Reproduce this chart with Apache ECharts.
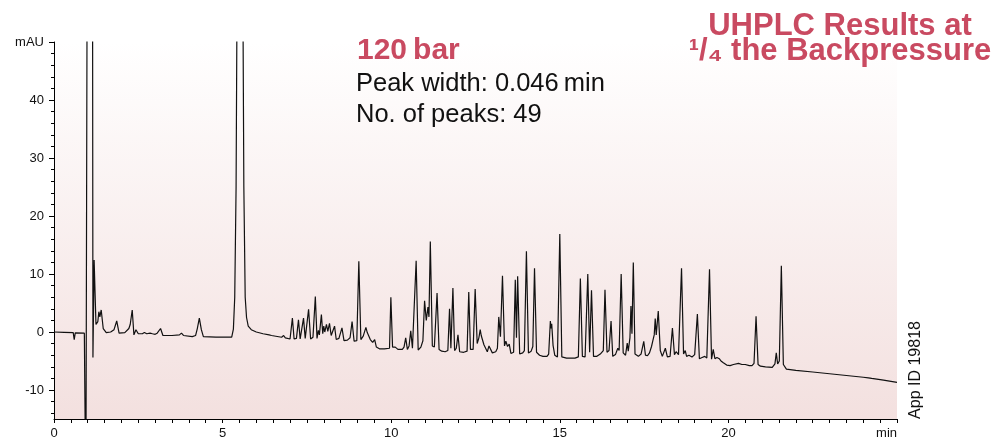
<!DOCTYPE html>
<html>
<head>
<meta charset="utf-8">
<script src="https://cdn.jsdelivr.net/npm/echarts@6/dist/echarts.min.js"></script>
<style>
html,body{margin:0;padding:0;background:#ffffff;}
#chart{width:999px;height:437px;}
</style>
</head>
<body>
<div id="chart"></div>
<script>
// ---- Data: [retention time (min), signal (mAU)] ----
const earlyTrace = [
  [0,0],[0.3,-0.05],[0.57,-0.1],[0.6,-1.3],[0.63,-0.15],[0.9,-0.2],[0.93,-0.2],
  [0.945,-30],[0.975,-30],[0.99,80],[1.14,80],[1.155,-4.4],[1.19,12.4],[1.245,1.3],
  [1.3,1.8],[1.33,3.5],[1.36,2.6],[1.4,3.8],[1.46,0.6],[1.55,-0.1],[1.68,0],
  [1.78,0.4],[1.81,0.3],[1.86,1.9],[1.93,-0.2],[2.1,-0.1],[2.22,0.6],[2.26,1.3],
  [2.32,3.8],[2.37,-0.5],[2.43,0.4],[2.5,-0.3],[2.62,-0.3],[2.68,-0.1],[2.75,-0.3],
  [2.85,-0.2],[2.92,-0.3],[3.0,-0.4],[3.06,-0.2],[3.1,-0.3],[3.16,0.6],[3.23,-0.6],
  [3.5,-0.6],[3.72,-0.5],[3.78,-0.2],[3.84,-0.6],[4.1,-0.8],[4.2,-0.6],[4.25,0.6],
  [4.31,2.4],[4.37,0.4],[4.43,-0.8],[4.8,-0.9],[5.27,-0.9],[5.32,0.5],[5.36,6],
  [5.4,25],[5.43,60],[5.52,220],[5.6,60],[5.63,25],[5.67,6],[5.71,2.5],[5.76,1.0],
  [5.85,0.4],[6.0,0],[6.2,-0.3],[6.38,-0.5],[6.41,-0.3],[6.45,-0.6],[6.75,-0.9],
  [6.81,-0.6],[6.86,-1.0]
];
const midTrace = [
  [7.0,-1.2],[7.03,-1.2],[7.07,2.4],[7.12,-1.2],[7.19,-1.1],[7.25,2.1],[7.3,-1.2],
  [7.35,-1.0],[7.4,2.4],[7.45,-1.1],[7.5,-0.8],[7.55,3.9],[7.61,-1.2],[7.68,-0.9],
  [7.75,6.1],[7.8,-1.1],[7.84,0.3],[7.87,-0.5],[7.93,3.0],[7.97,-0.3],[8.0,1.0],
  [8.03,0.0],[8.08,1.3],[8.12,0.1],[8.17,1.5],[8.22,-0.6],[8.26,-0.9],[8.32,1.0],
  [8.37,-1.3],[8.45,-1.1],[8.54,0.7],[8.6,-1.5],[8.7,-1.4],[8.78,-1.0],[8.84,1.8],
  [8.9,-1.6],[8.98,-1.5],[9.04,12.2],[9.1,-1.3],[9.17,-0.7],[9.25,0.8],[9.29,-0.1],
  [9.33,0.2],[9.38,-1.3],[9.45,-1.8],[9.51,-1.3],[9.56,-2.6],[9.65,-2.9],[9.8,-2.9],
  [9.95,-2.8],[9.99,6.0],[10.04,-2.6],[10.08,-2.3],[10.12,-2.6],[10.2,-3.0],
  [10.33,-3.0],[10.38,-2.6],[10.43,-1.0],[10.48,-3.0],[10.53,-2.4],[10.58,0.2],
  [10.63,-2.8],[10.68,-2.6],[10.74,12.3],[10.8,-3.1],[10.88,-2.6],[10.94,-1.5],
  [10.99,5.4],[11.04,2.0],[11.09,4.3],[11.12,2.6],[11.16,15.6],[11.22,-2.4],
  [11.28,-2.6],[11.36,6.7],[11.42,-3.0],[11.5,-3.3],[11.6,-3.4],[11.68,-3.2],
  [11.73,4.0],[11.77,-2.8],[11.83,7.6],[11.88,-3.2],[11.93,-2.8],[11.98,-0.5],
  [12.03,-3.4],[12.15,-3.5],[12.25,-3.3],[12.3,6.9],[12.35,-3.0],[12.43,-3.0],
  [12.49,7.4],[12.55,-2.0],[12.6,-1.0],[12.64,0.4],[12.67,-0.6],[12.7,-1.2],
  [12.75,-2.2],[12.8,-2.8],[12.85,-3.4],[12.9,-2.4],[12.94,-2.2],[13.0,-3.6],
  [13.1,-3.4],[13.15,-2.8],[13.19,2.6],[13.24,-0.8],[13.3,9.7],[13.36,-2.4],
  [13.4,-1.6],[13.45,-2.5],[13.5,-2.1],[13.55,-3.7],[13.63,-3.5],[13.68,9.0],
  [13.715,-1.0],[13.75,9.6],[13.81,-3.8],[13.9,-3.6],[13.95,-3.2],[14.01,13.9],
  [14.07,-3.6],[14.15,-3.3],[14.2,-2.5],[14.25,11.0],[14.31,-3.5],[14.4,-4.0],
  [14.5,-4.2],[14.62,-4.2],[14.67,-3.8],[14.72,1.9],[14.74,0.6],[14.76,1.4],
  [14.8,-2.3],[14.85,-4.0],[14.93,-4.3],[15.0,16.9],[15.06,-4.3],[15.2,-4.5],
  [15.45,-4.5]
];
const lateTrace = [
  [15.55,-4.3],[15.61,9.2],[15.67,-4.2],[15.75,-4.3],[15.83,10.0],[15.885,-3.5],
  [15.94,7.2],[16.0,-4.2],[16.1,-4.2],[16.2,-3.8],[16.25,-3.6],[16.29,-3.2],
  [16.34,7.3],[16.4,-3.5],[16.46,-3.2],[16.52,1.9],[16.57,-4.2],[16.65,-3.9],
  [16.72,-2.8],[16.76,-3.2],[16.82,10.0],[16.88,-3.6],[16.95,-4.0],[17.0,-1.9],
  [17.03,-3.3],[17.08,-1.0],[17.11,4.5],[17.14,-0.3],[17.18,12.0],[17.23,-3.8],
  [17.28,-3.7],[17.33,-4.2],[17.41,-3.8],[17.45,-4.1],[17.49,-1.6],[17.54,-4.0],
  [17.6,-4.1],[17.66,-3.6],[17.72,-2.5],[17.76,-1.5],[17.8,-0.5],[17.83,2.3],
  [17.86,-0.5],[17.92,3.6],[17.98,-3.2],[18.04,-4.2],[18.13,-2.8],[18.19,-4.3],
  [18.27,-4.2],[18.34,0.7],[18.4,-3.9],[18.45,-3.4],[18.52,-3.9],[18.61,11.0],
  [18.67,-3.8],[18.72,-3.2],[18.76,-4.2],[18.83,-4.0],[18.92,-4.3],[19.0,-3.9],
  [19.08,3.1],[19.14,-4.6],[19.22,-4.4],[19.3,-4.2],[19.36,-4.5],[19.44,10.8],
  [19.5,-4.7],[19.55,-3.0],[19.6,-4.6],[19.66,-4.4],[19.73,-4.6],[19.78,-5.0],
  [19.85,-5.3],[19.95,-5.7],[20.05,-5.8],[20.15,-5.6],[20.3,-5.4],[20.4,-5.6],
  [20.5,-5.6],[20.55,-5.4],[20.62,-5.8],[20.7,-5.8],[20.76,-5.4],[20.82,2.7],
  [20.88,-5.6],[20.95,-5.9],[21.1,-6.0],[21.3,-6.1],[21.38,-5.5],[21.42,-3.6],
  [21.46,-5.5],[21.51,-5.0],[21.57,11.4],[21.63,-5.6],[21.72,-6.4],[22.0,-6.6],
  [22.5,-6.9],[23.0,-7.2],[23.5,-7.5],[24.0,-7.8],[24.15,-7.9],[24.2,-7.6],
  [24.25,-8.0],[24.6,-8.3],[25.0,-8.7]
];

// ---- Axis ticks / labels ----
const xLabelValues = [0, 5, 10, 15, 20, 25];
const xUnitLabel = 'min';
const yLabelValues = [-10, 0, 10, 20, 30, 40, 50];
const yUnitLabel = 'mAU';
const yMinorStep = 2;

// ---- Texts ----
const pressureText = '120\u2009bar';
const peakWidthText = 'Peak width: 0.046\u2009min';
const peakCountText = 'No. of peaks: 49';
const titleLine1 = 'UHPLC Results at';
const titleLine2 = '\u00B9/\u2084 the Backpressure';
const appIdText = 'App ID 19818';

const yMinorValues = [];
for (let v = -14; v <= 50; v += yMinorStep) {
  if (yLabelValues.indexOf(v) === -1) yMinorValues.push(v);
}

const FONT = '"Liberation Sans", Arial, Helvetica, sans-serif';
const RED = '#c94a61';

const chart = echarts.init(document.getElementById('chart'), null, {renderer: 'canvas'});
const traceData = earlyTrace.concat(midTrace, lateTrace);

const option = {
  animation: false,
  backgroundColor: '#ffffff',
  grid: {
    left: 54, right: 102, top: 42, bottom: 18,
    containLabel: false,
    outerBoundsMode: 'none',
    show: true, borderWidth: 0,
    backgroundColor: new echarts.graphic.LinearGradient(0, 0, 0, 1, [
      {offset: 0, color: '#ffffff'},
      {offset: 1, color: '#f3e0df'}
    ])
  },
  xAxis: {
    type: 'value', min: 0, max: 25, interval: 0.5,
    axisLine: {onZero: false, lineStyle: {color: '#000', width: 1}},
    axisTick: {show: true, length: 4, lineStyle: {color: '#000', width: 1}},
    splitLine: {show: false},
    axisLabel: {
      customValues: xLabelValues,
      formatter: v => (v === 25 ? xUnitLabel : String(v)),
      fontSize: 13, color: '#111', fontFamily: FONT, margin: 8,
      alignMaxLabel: 'right'
    }
  },
  yAxis: [{
    type: 'value', min: -15, max: 50,
    axisLine: {show: true, onZero: false, lineStyle: {color: '#000', width: 1}},
    axisTick: {show: true, customValues: yLabelValues, length: 5, lineStyle: {color: '#000', width: 1}},
    splitLine: {show: false},
    axisLabel: {
      customValues: yLabelValues,
      formatter: v => (v === 50 ? yUnitLabel : String(v)),
      fontSize: 13, color: '#111', fontFamily: FONT, margin: 10
    }
  }, {
    type: 'value', min: -15, max: 50, position: 'left', offset: 0,
    axisLine: {show: false, onZero: false},
    axisTick: {show: true, customValues: yMinorValues, length: 3, lineStyle: {color: '#000', width: 1}},
    axisLabel: {show: false},
    splitLine: {show: false}
  }],
  series: [{
    type: 'line',
    data: traceData,
    showSymbol: false,
    clip: true,
    silent: true,
    lineStyle: {color: '#111111', width: 1.2},
    yAxisIndex: 0
  }],
  graphic: [
    {type: 'text', x: 357, y: 51, silent: true,
     style: {text: pressureText, font: 'bold 30px ' + FONT, fill: RED, align: 'left', verticalAlign: 'middle'}},
    {type: 'text', x: 356, y: 83.5, silent: true,
     style: {text: peakWidthText, font: '25.5px ' + FONT, fill: '#111', align: 'left', verticalAlign: 'middle'}},
    {type: 'text', x: 356, y: 114.5, silent: true,
     style: {text: peakCountText, font: '25.5px ' + FONT, fill: '#111', align: 'left', verticalAlign: 'middle'}},
    {type: 'text', x: 840, y: 26, silent: true,
     style: {text: titleLine1, font: 'bold 31px ' + FONT, fill: RED, align: 'center', verticalAlign: 'middle'}},
    {type: 'text', x: 840, y: 51.5, silent: true,
     style: {text: titleLine2, font: 'bold 31px ' + FONT, fill: RED, align: 'center', verticalAlign: 'middle'}},
    {type: 'text', x: 916, y: 370, rotation: Math.PI / 2, silent: true,
     style: {text: appIdText, font: '16px ' + FONT, fill: '#111', align: 'center', verticalAlign: 'middle'}}
  ]
};
chart.setOption(option);
</script>
</body>
</html>
